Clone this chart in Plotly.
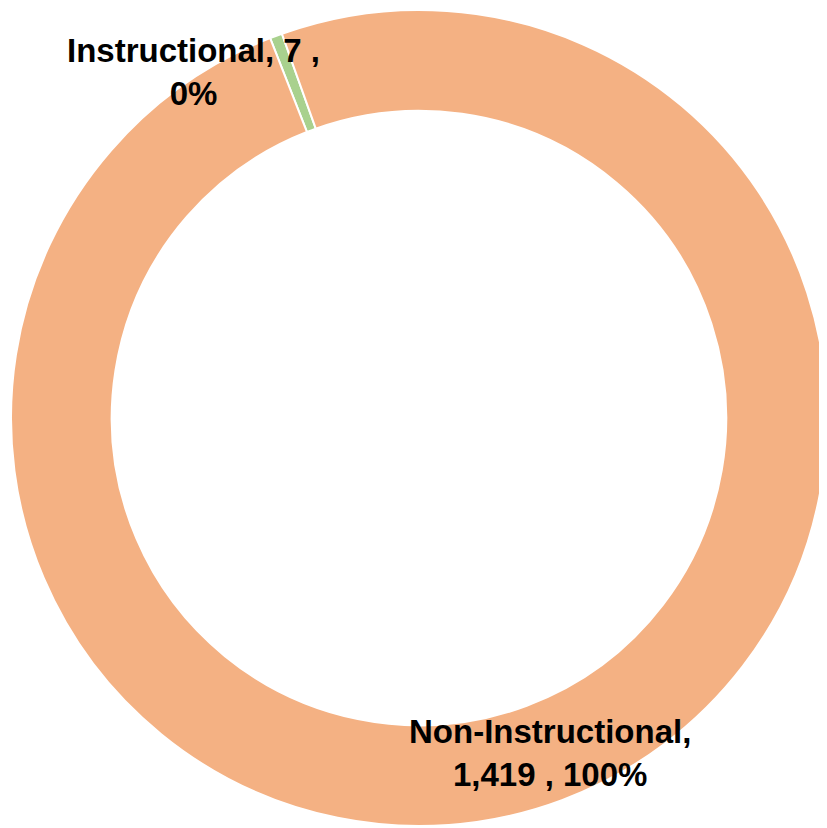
import plotly.graph_objects as go

# Data
labels = ["Instructional", "Non-Instructional"]
values = [7, 1419]
label_text = ["Instructional, 7 ,<br>0%", "Non-Instructional,<br>1,419 , 100%"]
colors = ["#A9D18E", "#F4B183"]

W, H = 827, 828
# page body adds an 8px offset, so positions are given 8px up/left
cx, cy, r = 411, 410, 408

fig = go.Figure()
fig.add_trace(go.Pie(
    labels=labels,
    values=values,
    hole=0.753,
    sort=False,
    direction="clockwise",
    rotation=-21.4,
    textinfo="none",
    marker=dict(colors=colors, line=dict(color="white", width=2)),
    domain=dict(x=[(cx - r) / W, (cx + r) / W], y=[1 - (cy + r) / H, 1 - (cy - r) / H]),
    showlegend=False,
))

# Data labels positioned like the original
label_pos = [(185, 64), (542, 745)]
for txt, (px, py) in zip(label_text, label_pos):
    fig.add_annotation(
        x=px / W, y=1 - py / H, xref="paper", yref="paper",
        text="<b>" + txt + "</b>", showarrow=False, align="center",
        font=dict(family="Liberation Sans", size=33, color="black"),
        xanchor="center", yanchor="middle",
    )

fig.update_layout(
    width=W, height=H,
    margin=dict(l=0, r=0, t=0, b=0),
    paper_bgcolor="white", plot_bgcolor="white",
)

fig.write_html("out.html")
